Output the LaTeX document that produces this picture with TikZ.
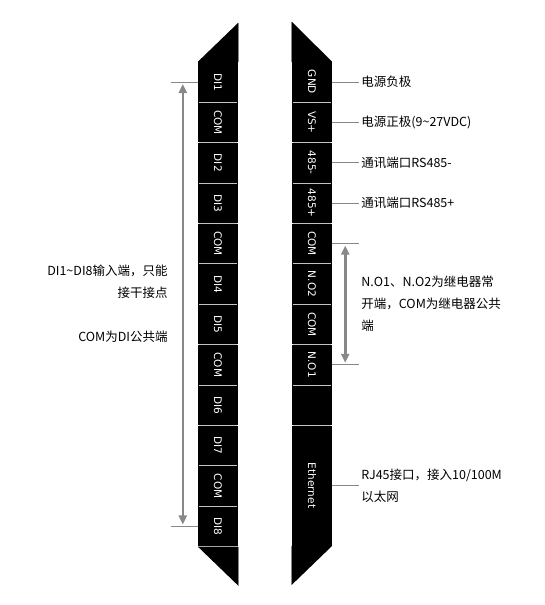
\documentclass[tikz,border=0pt]{standalone}
\usepackage{fontspec}
\usepackage{graphicx}
\setmainfont{Noto Sans CJK SC}
\newfontfamily\pinfont{DejaVu Sans}
\usetikzlibrary{arrows.meta, positioning, calc}
\definecolor{lineGray}{RGB}{136,136,136}
\definecolor{sepGray}{RGB}{195,195,195}
\tikzset{
    >={Triangle[width=8pt,length=9pt]},
    % Strip cells
    cell/.style={rectangle, fill=black, minimum width=40pt, minimum height=40pt,
                 inner sep=0pt, text=white, font=\pinfont\fontsize{10.5}{12}\selectfont},
    sep/.style={sepGray, line width=0.8pt},
    edge/.style={lineGray, line width=0.8pt},
    % Leaders & labels
    lead/.style={lineGray, line width=0.8pt},
    span/.style={<->, lineGray, line width=2.6pt},
    lbl/.style={font=\fontsize{12.5}{22}\selectfont, inner sep=2pt, align=left}
}

\begin{document}
\begin{tikzpicture}[x=1pt, y=-1pt]
\useasboundingbox (0,0) rectangle (544,605);

% Left terminal strip
\node[cell] (L1) at (218,82) {\rotatebox{-90}{DI1}};
\foreach \t [count=\i from 2] in {COM,DI2,DI3,COM,DI4,DI5,COM,DI6,DI7,COM,DI8} {
    \pgfmathtruncatemacro\j{\i-1}
    \node[cell, below=0pt of L\j] (L\i) {\rotatebox{-90}{\t}};
}

% Right terminal strip
\node[cell] (R1) at (312,82) {\rotatebox{-90}{GND}};
\foreach \t [count=\i from 2] in {VS+,485-,485+,COM,N.O2,COM,N.O1,{}} {
    \pgfmathtruncatemacro\j{\i-1}
    \node[cell, below=0pt of R\j] (R\i) {\rotatebox{-90}{\t}};
}
\node[cell, minimum height=120pt, below=0pt of R9] (R10) {\rotatebox{-90}{Ethernet}};

% Chamfered ends
\fill ([yshift=39pt]L1.north east) -- (L1.north west) -- (L1.north east) -- cycle;
\fill ([yshift=40pt]R1.north west) -- (R1.north east) -- (R1.north west) -- cycle;
\fill (L12.south west) -- ([yshift=-39pt]L12.south east) -- (L12.south east) -- cycle;
\fill (R10.south east) -- ([yshift=-39pt]R10.south west) -- (R10.south west) -- cycle;
\draw[edge] ([yshift=39pt]L1.north east) -- (L1.north east);
\draw[edge] ([yshift=40pt]R1.north west) -- (R1.north west);
\draw[edge] (L12.south east) -- ([yshift=-39pt]L12.south east);
\draw[edge] (R10.south west) -- ([yshift=-39pt]R10.south west);

% Dividers
\foreach \i in {1,...,11}
    \draw[sep] ([xshift=1pt]L\i.south west) -- ([xshift=-1pt]L\i.south east);
\foreach \i in {1,...,9}
    \draw[sep] ([xshift=1pt]R\i.south west) -- ([xshift=-1pt]R\i.south east);

% Right labels
\node[lbl, right=27pt of R1] (tGND) {电源负极};
\node[lbl, right=27pt of R2] (tVS) {电源正极(9\textasciitilde 27VDC)};
\node[lbl, right=27pt of R3] (tA) {通讯端口RS485-};
\node[lbl, right=27pt of R4] (tB) {通讯端口RS485+};
\node[lbl, right=27pt of R6.south east] (tNO) {N.O1、N.O2为继电器常\\开端，COM为继电器公共\\端};
\node[lbl, right=27pt of R10] (tEth) {RJ45接口，接入10/100M\\以太网};
\draw[lead] (R1.east) -- (tGND.west);
\draw[lead] (R2.east) -- (tVS.west);
\draw[lead] (R3.east) -- (tA.west);
\draw[lead] (R4.east) -- (tB.west);
\draw[lead] (R10.east) -- (tEth.west);

% Relay span
\coordinate (k1) at ([xshift=27pt]R5.east);
\coordinate (k2) at ([xshift=27pt]R8.east);
\draw[lead] (R5.east) -- (k1);
\draw[lead] (R8.east) -- (k2);
\draw[span] ([xshift=13pt,yshift=-2pt]R5.east) -- ([xshift=13pt,yshift=2pt]R8.east);

% Digital input span
\coordinate (d1) at ([xshift=-27pt]L1.west);
\coordinate (d2) at ([xshift=-27pt]L12.west);
\draw[lead] (L1.west) -- (d1);
\draw[lead] (L12.west) -- (d2);
\draw[span] ([xshift=-15pt,yshift=-2pt]L1.west) -- ([xshift=-15pt,yshift=2pt]L12.west);
\node[lbl, align=right, left=28pt of L6.south west] (tDI) {DI1\textasciitilde DI8输入端，只能\\接干接点\\[22pt]COM为DI公共端};

\end{tikzpicture}
\end{document}
